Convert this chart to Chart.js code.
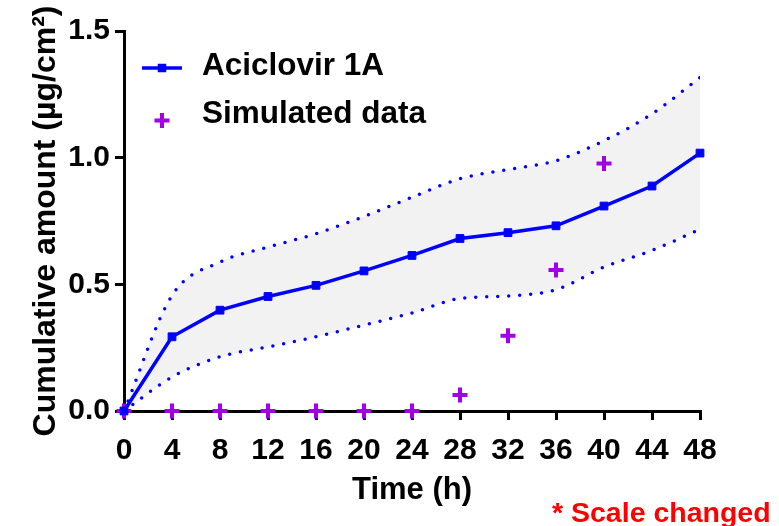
<!DOCTYPE html>
<html>
<head>
<meta charset="utf-8">
<script src="https://cdn.jsdelivr.net/npm/chart.js@4.4.1/dist/chart.umd.min.js"></script>
<style>
  html, body { margin: 0; padding: 0; background: #ffffff; }
  #wrap { width: 779px; height: 526px; position: relative; }
</style>
</head>
<body>
<div id="wrap"><canvas id="chart" width="779" height="526"></canvas></div>
<script>
// Sampling times (h)
const timePoints = [0, 4, 8, 12, 16, 20, 24, 28, 32, 36, 40, 44, 48];
// Mean cumulative amount permeated (µg/cm²)
const aciclovirMean = [0, 0.293, 0.398, 0.452, 0.496, 0.553, 0.614, 0.681, 0.704, 0.731, 0.809, 0.888, 1.018];
// Upper and lower limits of the confidence band
const upperLimit = [0, 0.456, 0.588, 0.647, 0.700, 0.768, 0.844, 0.917, 0.953, 0.988, 1.067, 1.173, 1.316];
const lowerLimit = [0, 0.134, 0.214, 0.253, 0.293, 0.339, 0.387, 0.444, 0.454, 0.479, 0.568, 0.634, 0.717];
// Simulated values (no simulation after 40 h)
const simulatedData = [0, 0, 0, 0, 0, 0, 0, 0.063, 0.297, 0.557, 0.977, null, null];
// Axis texts
const xTitle = 'Time (h)';
const yTitle = 'Cumulative amount (µg/cm²)';
const seriesNames = ['Aciclovir 1A', 'Simulated data'];
const footNote = '* Scale changed';

const BLUE = '#0000ff';
const PURPLE = '#a200e6';
const FONT = '"Liberation Sans", Arial, Helvetica, sans-serif';

Chart.defaults.font.family = FONT;
Chart.defaults.color = '#000000';

const toXY = (vals) => timePoints.map((t, i) => ({ x: t, y: vals[i] }));

// Legend and footnote drawn directly on the canvas
const annotations = {
  id: 'annotations',
  afterDraw(chart) {
    const ctx = chart.ctx;
    ctx.save();
    // Legend row 1: line with square marker
    ctx.strokeStyle = BLUE;
    ctx.lineWidth = 3.5;
    ctx.beginPath();
    ctx.moveTo(142, 68);
    ctx.lineTo(182, 68);
    ctx.stroke();
    ctx.fillStyle = BLUE;
    ctx.fillRect(157.75, 63.75, 8.5, 8.5);
    // Legend row 2: plus marker
    ctx.strokeStyle = PURPLE;
    ctx.lineWidth = 4;
    ctx.beginPath();
    ctx.moveTo(154.5, 120.5);
    ctx.lineTo(169.5, 120.5);
    ctx.moveTo(162, 113);
    ctx.lineTo(162, 128);
    ctx.stroke();

    ctx.fillStyle = '#000000';
    ctx.font = 'bold 31.5px ' + FONT;
    ctx.textAlign = 'left';
    ctx.textBaseline = 'alphabetic';
    ctx.fillText(seriesNames[0], 202, 75);
    ctx.fillText(seriesNames[1], 202, 123);

    // Footnote
    ctx.fillStyle = '#ff0000';
    ctx.font = 'bold 28.5px ' + FONT;
    ctx.fillText(footNote, 552, 522);
    ctx.restore();
  }
};

new Chart(document.getElementById('chart'), {
  type: 'line',
  data: {
    datasets: [
      {
        label: seriesNames[0],
        data: toXY(aciclovirMean),
        borderColor: BLUE,
        backgroundColor: BLUE,
        borderWidth: 3.5,
        tension: 0,
        pointStyle: 'rect',
        pointRadius: 5.5,
        pointBorderWidth: 1,
        pointBackgroundColor: BLUE,
        pointBorderColor: BLUE,
        fill: false,
        clip: false
      },
      {
        label: seriesNames[1],
        data: toXY(simulatedData),
        showLine: false,
        pointStyle: 'cross',
        pointRadius: 7.5,
        pointBorderWidth: 4,
        pointBorderColor: PURPLE,
        pointBackgroundColor: PURPLE,
        fill: false,
        clip: false
      },
      {
        label: 'upper',
        data: toXY(upperLimit),
        borderColor: BLUE,
        borderWidth: 3.5,
        borderDash: [0, 11],
        borderCapStyle: 'round',
        cubicInterpolationMode: 'monotone',
        pointRadius: 0,
        fill: { target: '+1' },
        backgroundColor: '#f2f2f2'
      },
      {
        label: 'lower',
        data: toXY(lowerLimit),
        borderColor: BLUE,
        borderWidth: 3.5,
        borderDash: [0, 11],
        borderCapStyle: 'round',
        cubicInterpolationMode: 'monotone',
        pointRadius: 0,
        fill: false
      }
    ]
  },
  options: {
    responsive: false,
    animation: false,
    events: [],
    layout: { padding: { top: 31, right: 79, bottom: 0, left: 0 } },
    plugins: {
      legend: { display: false },
      tooltip: { enabled: false },
      filler: { drawTime: 'beforeDatasetsDraw' }
    },
    scales: {
      x: {
        type: 'linear',
        min: 0,
        max: 48,
        offset: false,
        afterFit(scale) { scale.height = 115; },
        border: { display: true, color: '#000000', width: 3 },
        grid: { display: true, drawOnChartArea: false, drawTicks: true, tickLength: 9, color: '#000000', lineWidth: 3 },
        ticks: {
          stepSize: 4,
          autoSkip: false,
          maxRotation: 0,
          padding: 13,
          color: '#000000',
          font: { size: 30, weight: 'bold' }
        },
        title: {
          display: true,
          text: xTitle,
          color: '#000000',
          font: { size: 31, weight: 'bold' },
          padding: { top: 0, bottom: 17 }
        }
      },
      y: {
        type: 'linear',
        min: 0,
        max: 1.5,
        afterFit(scale) { scale.width = 124; },
        border: { display: true, color: '#000000', width: 3 },
        grid: { display: true, drawOnChartArea: false, drawTicks: true, tickLength: 9, color: '#000000', lineWidth: 3 },
        ticks: {
          stepSize: 0.5,
          padding: 5,
          color: '#000000',
          font: { size: 30, weight: 'bold' },
          callback: (v) => Number(v).toFixed(1)
        },
        title: {
          display: true,
          text: yTitle,
          color: '#000000',
          font: { size: 32, weight: 'bold' },
          padding: { top: 27, bottom: 0 }
        }
      }
    }
  },
  plugins: [annotations]
});
</script>
</body>
</html>
